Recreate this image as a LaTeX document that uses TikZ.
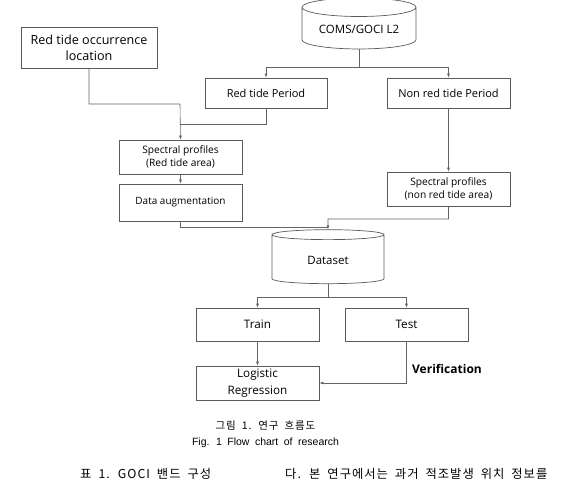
\documentclass[tikz,border=0pt]{standalone}
\usepackage{fontspec}
\setmainfont{Open Sans}
\newfontfamily\krfont[LetterSpace=8]{Noto Sans CJK KR}
\newfontfamily\capfont{Liberation Sans}
\usetikzlibrary{arrows.meta, positioning, shapes.geometric, calc}
\definecolor{boxline}{RGB}{90,90,90}
\definecolor{linkline}{RGB}{100,100,100}
\newcommand{\widespaces}[1]{\spaceskip=#1\relax}

\begin{document}
\begin{tikzpicture}[
  x=1pt, y=-1pt,
  stepbox/.style={draw=boxline, line width=0.7pt, align=center,
                  inner sep=2pt, font=\fontsize{11}{16}\selectfont},
  smallbox/.style={stepbox, font=\fontsize{10.2}{13.3}\selectfont},
  dbase/.style={cylinder, shape border rotate=90, aspect=0.22, draw=boxline,
                line width=0.7pt, align=center, inner sep=2pt},
  link/.style={draw=linkline, line width=0.6pt},
  arrowstyle/.style={link, -{Latex[length=4pt, width=3pt]}},
  pagetext/.style={font=\krfont\fontsize{10.5}{12}\selectfont},
  bodytext/.style={font=\krfont\fontsize{12.3}{13}\selectfont,
                   anchor=west, inner sep=0pt},
]
\useasboundingbox (0,0) rectangle (565,481);
\clip (0,0) rectangle (565,481);

% =================================================================
% TOP: inputs
% =================================================================
\node[stepbox, minimum width=136pt, minimum height=41pt,
      font=\fontsize{12.6}{16}\selectfont] (loc) at (89, 47.5)
  {Red tide occurrence\\location};
\node[dbase, minimum width=114pt, minimum height=51pt,
      font=\fontsize{11.5}{13}\selectfont] (coms) at (359, 29.5)
  {\raisebox{-5pt}{COMS/GOCI L2}};

\node[stepbox, minimum width=122pt, minimum height=30pt] (rtp) at (266, 93)
  {Red tide Period};
\node[stepbox, minimum width=123pt, minimum height=30pt] (nrtp) at (448.5, 93)
  {Non red tide Period};

\coordinate (split) at (359, 67);
\draw[link] (coms.south) -- (split);
\draw[arrowstyle] (split) -| (rtp.north);
\draw[arrowstyle] (split) -| (nrtp.north);

% =================================================================
% MIDDLE: spectral profiles
% =================================================================
\node[smallbox, minimum width=123pt, minimum height=34pt] (spr) at (180.5, 157)
  {Spectral profiles\\(Red tide area)};
\node[stepbox, minimum width=123pt, minimum height=37pt,
      font=\fontsize{10}{12}\selectfont] (aug) at (180.5, 202.5)
  {Data augmentation};
\node[smallbox, minimum width=123pt, minimum height=34pt] (spn) at (448.5, 189)
  {Spectral profiles\\(non red tide area)};

\coordinate (joinloc) at (180, 104);
\coordinate (joinrtp) at (180, 124);
\draw[arrowstyle] (loc.south) |- (joinloc) -- (spr.north);
\draw[link] (rtp.south) |- (joinrtp);
\draw[arrowstyle] (spr.south) -- (aug.north);
\draw[arrowstyle] (nrtp.south) -- (spn.north);

% =================================================================
% DATASET and model
% =================================================================
\node[dbase, minimum width=112pt, minimum height=54pt,
      font=\fontsize{11.5}{13}\selectfont] (data) at (328, 260)
  {\raisebox{-4pt}{Dataset}};

\coordinate (joinaug) at (328, 227);
\coordinate (joinspn) at (328, 219);
\draw[link] (aug.south) |- (joinaug);
\draw[arrowstyle] (spn.south) |- (joinspn) -- (data.north);

\node[stepbox, minimum width=123pt, minimum height=33pt,
      font=\fontsize{11.7}{14}\selectfont] (train) at (257.5, 324.5) {Train};
\node[stepbox, minimum width=123pt, minimum height=33pt,
      font=\fontsize{11.7}{14}\selectfont] (test) at (406.5, 324.5) {Test};
\node[stepbox, minimum width=123pt, minimum height=34pt,
      font=\fontsize{11.7}{16.3}\selectfont] (logreg) at (257.5, 383)
  {Logistic\\Regression};
\node[font=\bfseries\fontsize{12}{14}\selectfont] (verif) at (447, 369)
  {Verification};

\coordinate (splitdata) at (328, 297);
\draw[link] (data.south) -- (splitdata);
\draw[arrowstyle] (splitdata) -| (train.north);
\draw[arrowstyle] (splitdata) -| (test.north);
\draw[arrowstyle] (train.south) -- (logreg.north);
\draw[arrowstyle] (test.south) |- (logreg.east);

% =================================================================
% CAPTION and page text
% =================================================================
\node[pagetext] (capkr) at (265.5, 426)
  {\widespaces{6pt}그림 1. 연구 흐름도};
\node[font=\capfont\fontsize{10.5}{12}\selectfont] (capen) at (265.5, 443)
  {\widespaces{5.5pt}Fig. 1 Flow chart of research};
\node[bodytext] (tabcap) at (80, 474)
  {\widespaces{7pt}표 1. GOCI 밴드 구성};
\node[bodytext] (body) at (285, 474)
  {\widespaces{7pt}다. 본 연구에서는 과거 적조발생 위치 정보를};
\end{tikzpicture}
\end{document}
